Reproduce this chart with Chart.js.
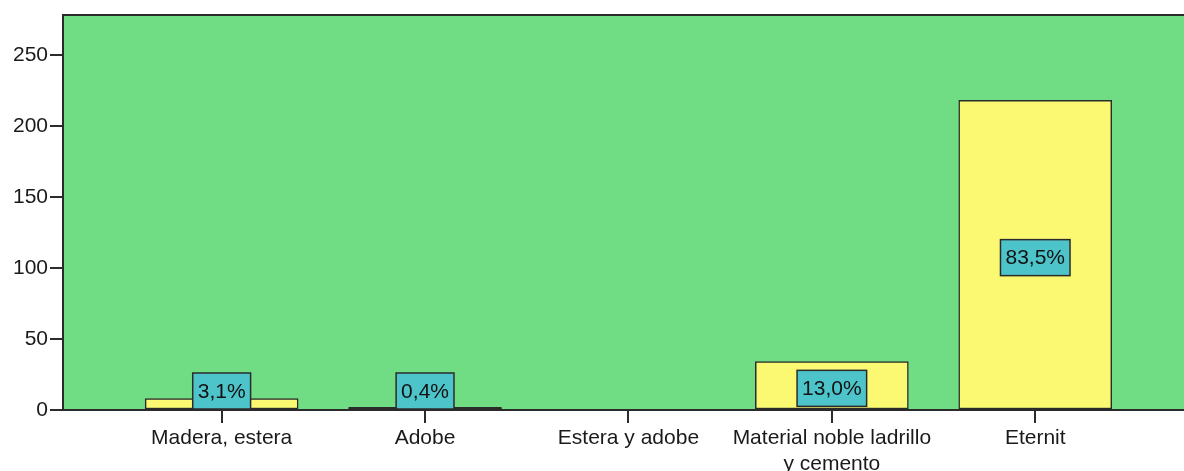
<!DOCTYPE html>
<html>
<head>
<meta charset="utf-8">
<script src="https://cdn.jsdelivr.net/npm/chart.js@4/dist/chart.umd.min.js"></script>
<style>
  html, body { margin: 0; padding: 0; background: #ffffff; overflow: hidden; }
  #wrap { position: relative; width: 1200px; height: 471px; }
</style>
</head>
<body>
<div id="wrap"><canvas id="c"></canvas></div>
<script>
// ---- data ----
const categories = ["Madera, estera", "Adobe", "Estera y adobe", ["Material noble ladrillo", "y cemento"], "Eternit"];
const counts = [8, 1, 0, 34, 218];
const percentLabels = ["3,1%", "0,4%", "", "13,0%", "83,5%"];
const yTicks = [0, 50, 100, 150, 200, 250];

const FONT = "'Liberation Sans', Arial, sans-serif";
const GREEN = '#70dd85';
const YELLOW = '#fbf872';
const CYAN = '#4dc4ca';
const DARK = '#2b2b2b';

const framePlugin = {
  id: 'frame',
  beforeDraw(chart) {
    const { ctx, chartArea: a } = chart;
    ctx.save();
    ctx.fillStyle = GREEN;
    ctx.fillRect(a.left, a.top, a.right - a.left, a.bottom - a.top);
    ctx.strokeStyle = DARK;
    ctx.lineWidth = 2;
    ctx.beginPath();
    ctx.moveTo(a.left, a.bottom);
    ctx.lineTo(a.left, a.top);
    ctx.lineTo(a.right + 5, a.top);
    ctx.stroke();
    ctx.restore();
  }
};

const boxLabelPlugin = {
  id: 'boxLabels',
  afterDatasetsDraw(chart) {
    const { ctx } = chart;
    const meta = chart.getDatasetMeta(0);
    const yScale = chart.scales.y;
    const axisY = yScale.getPixelForValue(0);
    ctx.save();
    // very thin bars appear as a dark outline line in the reference
    meta.data.forEach((bar, i) => {
      const hgt = Math.abs(bar.base - bar.y);
      if (counts[i] > 0 && hgt < 3) {
        ctx.fillStyle = DARK;
        ctx.fillRect(bar.x - bar.width / 2, axisY - 3, bar.width, 3);
      }
    });
    ctx.font = '21px ' + FONT;
    ctx.textAlign = 'center';
    ctx.textBaseline = 'middle';
    meta.data.forEach((bar, i) => {
      const txt = percentLabels[i];
      if (!txt) return;
      const w = ctx.measureText(txt).width + 10;
      const h = 36;
      const mid = (bar.y + bar.base) / 2 + 3;
      const cy = Math.min(mid, axisY - h / 2 - 1);
      const x0 = bar.x - w / 2, y0 = cy - h / 2;
      ctx.fillStyle = CYAN;
      ctx.fillRect(x0, y0, w, h);
      ctx.strokeStyle = DARK;
      ctx.lineWidth = 1.5;
      ctx.strokeRect(x0, y0, w, h);
      ctx.fillStyle = '#111';
      ctx.fillText(txt, bar.x, cy + 1);
    });
    ctx.restore();
  }
};

new Chart(document.getElementById('c'), {
  type: 'bar',
  data: {
    datasets: [{
      data: counts.map((v, i) => ({ x: i, y: v })),
      backgroundColor: YELLOW,
      borderColor: DARK,
      borderWidth: 1.5,
      borderSkipped: false,
      barThickness: 153
    }]
  },
  options: {
    responsive: true,
    maintainAspectRatio: false,
    animation: false,
    layout: { padding: { top: 15, left: 0, right: 0, bottom: 0 } },
    plugins: { legend: { display: false }, tooltip: { enabled: false } },
    scales: {
      x: {
        type: 'linear',
        offset: false,
        min: -0.78,
        max: 4.81,
        afterBuildTicks(scale) {
          scale.ticks = categories.map((c, i) => ({ value: i }));
        },
        afterFit(scale) { scale.height = 61; },
        ticks: {
          autoSkip: false,
          maxRotation: 0,
          padding: 3,
          color: '#1a1a1a',
          font: { family: FONT, size: 21 },
          callback: (v) => categories[v]
        },
        grid: { display: true, offset: false, drawOnChartArea: false, drawTicks: true, tickLength: 13, color: DARK, lineWidth: 2 },
        border: { display: true, color: DARK, width: 2 }
      },
      y: {
        min: 0,
        max: 278,
        afterBuildTicks(scale) {
          scale.ticks = yTicks.map(v => ({ value: v }));
        },
        afterFit(scale) { scale.width = 63; },
        ticks: {
          padding: 2,
          color: '#1a1a1a',
          font: { family: FONT, size: 21 }
        },
        grid: { display: true, drawOnChartArea: false, drawTicks: true, tickLength: 13, color: DARK, lineWidth: 2 },
        border: { display: true, color: DARK, width: 2 }
      }
    }
  },
  plugins: [framePlugin, boxLabelPlugin]
});
</script>
</body>
</html>
